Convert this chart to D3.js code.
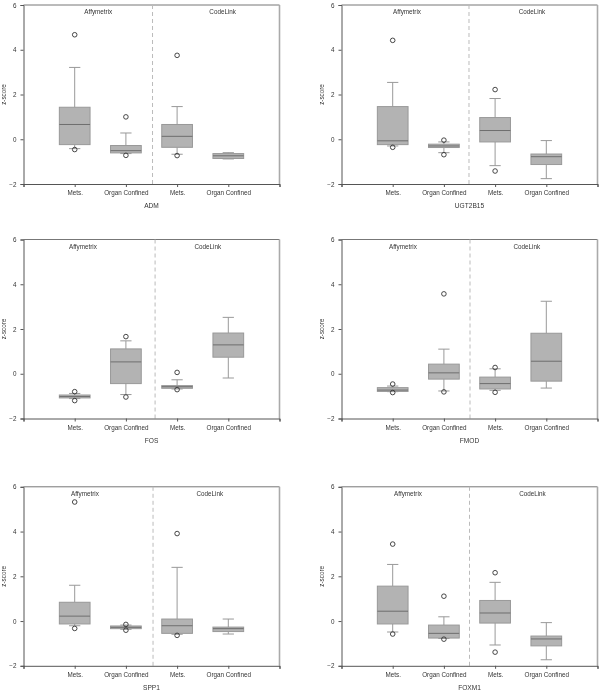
<!DOCTYPE html>
<html><head><meta charset="utf-8">
<script src="https://cdn.jsdelivr.net/npm/d3@7"></script>
<style>
html,body{margin:0;padding:0;background:#fff;}
svg{will-change:transform;}
text{font-family:"Liberation Sans",Arial,sans-serif;fill:#333;}
</style></head>
<body><svg id="c" width="600" height="692"></svg>
<script>
// ---- data ----
const genes = ["ADM", "UGT2B15", "FOS", "FMOD", "SPP1", "FOXM1"];
const categories = ["Mets.", "Organ Confined", "Mets.", "Organ Confined"];
const platforms = ["Affymetrix", "CodeLink"];
const yTicks = [-2, 0, 2, 4, 6];
const yLabel = "z-score";

// box stats per category: [lowWhisker, q1, median, q3, highWhisker]
const ADM_boxes = [[-0.42,-0.24,0.66,1.43,3.21],[-0.64,-0.61,-0.51,-0.28,0.28],[-0.67,-0.36,0.13,0.66,1.46],[-0.88,-0.86,-0.74,-0.64,-0.6]];
const ADM_outliers = [[4.67,-0.46],[1.0,-0.72],[3.75,-0.73],[]];
const UGT2B15_boxes = [[-0.3,-0.24,-0.07,1.46,2.54],[-0.6,-0.37,-0.3,-0.22,-0.12],[-1.18,-0.12,0.39,0.97,1.82],[-1.76,-1.13,-0.78,-0.66,-0.06]];
const UGT2B15_outliers = [[4.42,-0.36],[-0.04,-0.69],[2.22,-1.42],[]];
const FOS_boxes = [[-1.11,-1.08,-1.02,-0.95,-0.88],[-0.93,-0.44,0.53,1.11,1.47],[-0.68,-0.65,-0.58,-0.53,-0.27],[-0.19,0.74,1.29,1.82,2.52]];
const FOS_outliers = [[-0.8,-1.2],[1.66,-1.04],[0.06,-0.71],[]];
const FMOD_boxes = [[-0.8,-0.79,-0.73,-0.62,-0.55],[-0.77,-0.24,0.04,0.43,1.1],[-0.74,-0.68,-0.44,-0.15,0.22],[-0.64,-0.33,0.56,1.81,3.24]];
const FMOD_outliers = [[-0.46,-0.84],[3.57,-0.81],[0.28,-0.83],[]];
const SPP1_boxes = [[-0.21,-0.13,0.22,0.84,1.6],[-0.37,-0.34,-0.28,-0.22,-0.18],[-0.59,-0.55,-0.21,0.09,2.4],[-0.58,-0.47,-0.34,-0.27,0.09]];
const SPP1_outliers = [[5.32,-0.33],[-0.15,-0.41],[3.91,-0.64],[]];
const FOXM1_boxes = [[-0.49,-0.13,0.44,1.56,2.53],[-0.78,-0.76,-0.55,-0.18,0.19],[-1.07,-0.09,0.36,0.92,1.73],[-1.73,-1.11,-0.8,-0.67,-0.07]];
const FOXM1_outliers = [[3.44,-0.58],[1.11,-0.81],[2.16,-1.39],[]];

const boxData = [ADM_boxes, UGT2B15_boxes, FOS_boxes, FMOD_boxes, SPP1_boxes, FOXM1_boxes];
const outlierData = [ADM_outliers, UGT2B15_outliers, FOS_outliers, FMOD_outliers, SPP1_outliers, FOXM1_outliers];

// ---- layout ----
const colX = [23.5, 341.5];
const rowTop = [5, 239.5, 486.8];
const plotW = 256, plotH = 179;
const fs = 6.3;
// per-panel positions (in category units) of separator and platform labels
const sepPos = [2.52, 2.49, 2.57, 2.51, 2.53, 2.5];
const platPos = [[1.46, 3.89], [1.28, 3.72], [1.16, 3.6], [1.2, 3.62], [1.2, 3.64], [1.3, 3.73]];

const svg = d3.select("#c");

genes.forEach((gene, gi) => {
  const left = colX[gi % 2], top = rowTop[Math.floor(gi / 2)];
  const x = d3.scaleLinear().domain([0, 5]).range([left, left + plotW]);
  const y = d3.scaleLinear().domain([-2, 6]).range([top + plotH, top]);
  const g = svg.append("g");

  // frame top and right
  g.append("line").attr("x1", x(0)).attr("x2", x(5)).attr("y1", y(6)).attr("y2", y(6))
    .attr("stroke", "#777").attr("stroke-width", 1);
  g.append("line").attr("x1", x(5)).attr("x2", x(5)).attr("y1", y(6)).attr("y2", y(-2))
    .attr("stroke", "#aaa").attr("stroke-width", 1.6);

  // separator
  g.append("line").attr("x1", x(sepPos[gi])).attr("x2", x(sepPos[gi]))
    .attr("y1", y(6)).attr("y2", y(-2))
    .attr("stroke", "#bbb").attr("stroke-width", 1).attr("stroke-dasharray", "4,3");

  // platform labels
  platforms.forEach((p, pi) => {
    g.append("text").attr("x", x(platPos[gi][pi])).attr("y", y(6) + 9)
      .attr("text-anchor", "middle").attr("font-size", fs).text(p);
  });

  // axes
  const ya = g.append("g").attr("transform", `translate(${x(0)},0)`)
    .call(d3.axisLeft(y).tickValues(yTicks).tickSize(3).tickPadding(4).tickFormat(d3.format("d")));
  const xa = g.append("g").attr("transform", `translate(0,${y(-2)})`)
    .call(d3.axisBottom(x).tickValues([0, 1, 2, 3, 4, 5]).tickSize(3).tickPadding(4)
      .tickFormat(d => categories[d - 1] || ""));
  [ya, xa].forEach(a => {
    a.select(".domain").attr("stroke", "#555");
    a.selectAll(".tick line").attr("stroke", "#555");
    a.selectAll("text").attr("font-size", fs).attr("fill", "#333")
      .attr("font-family", '"Liberation Sans",Arial,sans-serif');
  });

  // axis titles
  g.append("text").attr("transform", `translate(${x(0) - 20},${(y(6) + y(-2)) / 2}) rotate(-90)`)
    .attr("text-anchor", "middle").attr("dy", "0.35em").attr("font-size", fs).text(yLabel);
  g.append("text").attr("x", (x(0) + x(5)) / 2).attr("y", y(-2) + 24)
    .attr("text-anchor", "middle").attr("font-size", fs + 0.3).text(gene);

  // boxes
  const bw = x(0.3) - x(0), cw = x(0.11) - x(0);
  boxData[gi].forEach((b, ci) => {
    const cx = x(ci + 1);
    const [lo, q1, med, q3, hi] = b;
    const wcol = "#999";
    g.append("line").attr("x1", cx).attr("x2", cx).attr("y1", y(q3)).attr("y2", y(hi)).attr("stroke", wcol);
    g.append("line").attr("x1", cx).attr("x2", cx).attr("y1", y(q1)).attr("y2", y(lo)).attr("stroke", wcol);
    g.append("line").attr("x1", cx - cw).attr("x2", cx + cw).attr("y1", y(hi)).attr("y2", y(hi)).attr("stroke", wcol);
    g.append("line").attr("x1", cx - cw).attr("x2", cx + cw).attr("y1", y(lo)).attr("y2", y(lo)).attr("stroke", wcol);
    g.append("rect").attr("x", cx - bw).attr("y", y(q3)).attr("width", 2 * bw)
      .attr("height", Math.max(1, y(q1) - y(q3)))
      .attr("fill", "#b3b3b3").attr("stroke", "#999").attr("stroke-width", 1);
    g.append("line").attr("x1", cx - bw).attr("x2", cx + bw).attr("y1", y(med)).attr("y2", y(med))
      .attr("stroke", "#6e6e6e").attr("stroke-width", 1);
    outlierData[gi][ci].forEach(v => {
      g.append("circle").attr("cx", cx).attr("cy", y(v)).attr("r", 2.3)
        .attr("fill", "none").attr("stroke", "#333").attr("stroke-width", 0.9);
    });
  });
});
</script></body></html>
